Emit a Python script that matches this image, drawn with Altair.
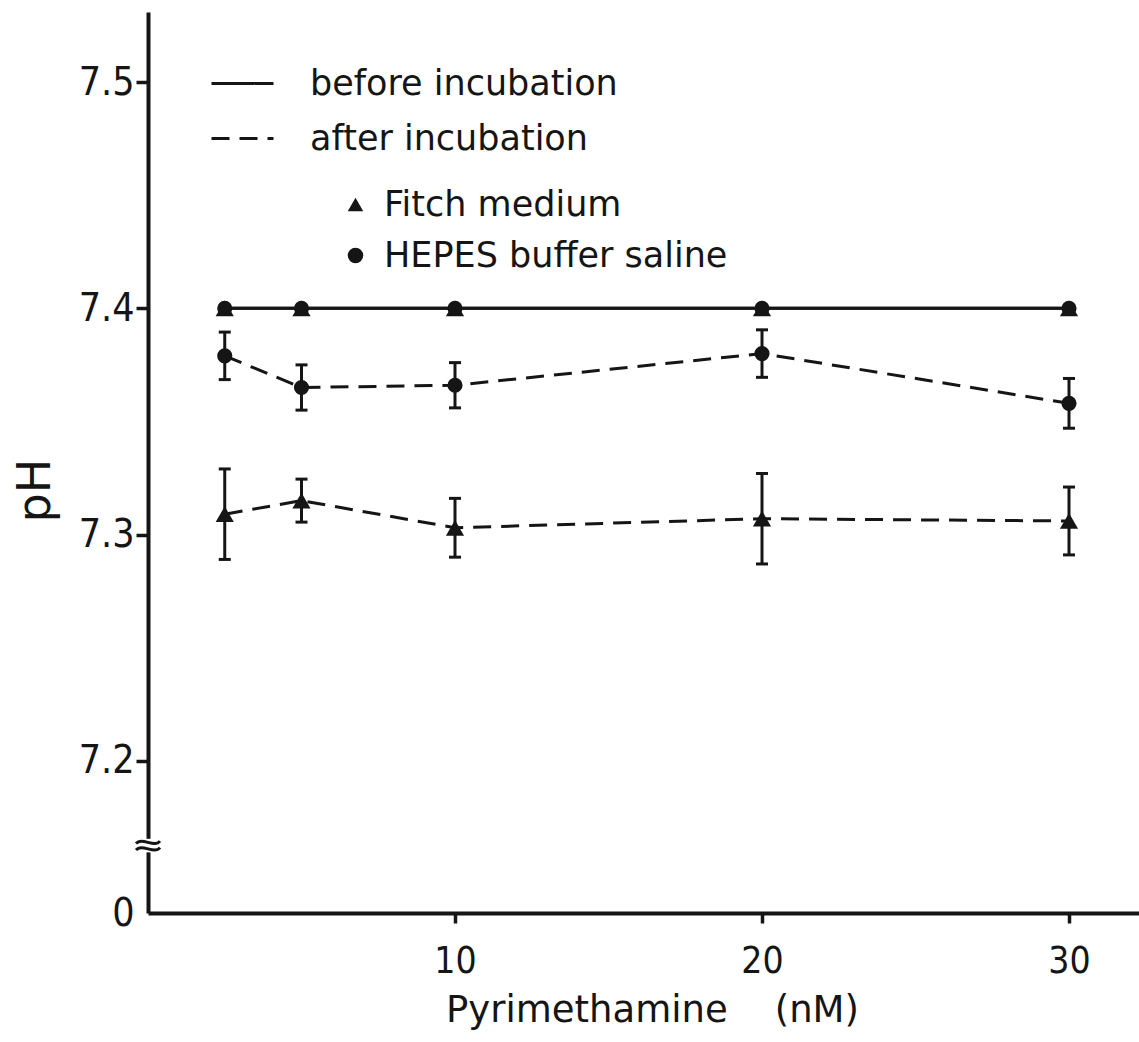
import altair as alt
import pandas as pd

# ---------------- data ----------------
CONC = [2.5, 5, 10, 20, 30]                       # Pyrimethamine (nM)
MEDIA = ["Fitch medium", "HEPES buffer saline"]
PHASES = ["before incubation", "after incubation"]

BEFORE_FITCH = [7.400, 7.400, 7.400, 7.400, 7.400]
BEFORE_HEPES = [7.400, 7.400, 7.400, 7.400, 7.400]
AFTER_FITCH = [7.309, 7.315, 7.303, 7.307, 7.306]
AFTER_FITCH_ERR = [0.020, 0.0095, 0.013, 0.020, 0.015]
AFTER_HEPES = [7.379, 7.365, 7.366, 7.380, 7.358]
AFTER_HEPES_ERR = [0.0105, 0.010, 0.010, 0.0105, 0.011]

Y_TICKS = [7.2, 7.3, 7.4, 7.5]
X_TICKS = [10, 20, 30]
Y_MIN, Y_MAX = 7.1327, 7.531      # bottom of broken axis stands for pH 0
X_MAX = 32.28
BREAK_AT = 7.1625                 # axis break symbol position
BREAK_GAP = [7.1655, 7.1595]

# ---------------- tables ----------------
rows = []
for med, vals_b, vals_a, errs in [
    ("Fitch medium", BEFORE_FITCH, AFTER_FITCH, AFTER_FITCH_ERR),
    ("HEPES buffer saline", BEFORE_HEPES, AFTER_HEPES, AFTER_HEPES_ERR),
]:
    for c, v in zip(CONC, vals_b):
        rows.append({"conc": c, "pH": v, "medium": med, "phase": "before incubation", "lo": v, "hi": v})
    for c, v, e in zip(CONC, vals_a, errs):
        rows.append({"conc": c, "pH": v, "medium": med, "phase": "after incubation", "lo": v - e, "hi": v + e})
df = pd.DataFrame(rows)
df_err = df[df["phase"] == "after incubation"]
df_fitch = df[df["medium"] == MEDIA[0]]
df_hepes = df[df["medium"] == MEDIA[1]]
df_break = pd.DataFrame({"conc": [0], "pH": [BREAK_AT]})
df_gap = pd.DataFrame({"conc": [0], "pH": [BREAK_GAP[0]], "pH2": [BREAK_GAP[1]]})

INK = "#151515"
TXT = "DejaVu Sans"
NUM = "Liberation Sans Narrow, DejaVu Sans Condensed, Roboto"

x_axis = alt.Axis(values=X_TICKS, grid=False, domainColor=INK, domainWidth=4,
                  tickColor=INK, tickWidth=3.5, tickSize=10,
                  labelFont=NUM, labelFontSize=37, labelColor=INK, labelPadding=20,
                  titleFont=TXT, titleFontSize=37, titleFontWeight="normal",
                  titleColor=INK, titlePadding=13, titleX=504, titleAlign="center")
y_axis = alt.Axis(values=[Y_MIN] + Y_TICKS, grid=False, domainColor=INK, domainWidth=4,
                  tickColor=INK, tickWidth=3.5, tickSize=12,
                  tickOpacity={"condition": {"test": "datum.value < 7.15", "value": 0}, "value": 1},
                  labelExpr="datum.value < 7.15 ? '0\u00a0\u00a0' : format(datum.value, '.1f')",
                  labelFont=NUM, labelFontSize=39, labelColor=INK, labelPadding=2,
                  titleFont=TXT, titleFontSize=46, titleFontWeight="normal", titleColor=INK,
                  titleX=-113, titleY=478, titleAngle=270, titleAlign="center",
                  titleBaseline="middle")

X_TITLE = "Pyrimethamine\u00a0\u00a0\u00a0\u00a0(nM)"
xs = alt.Scale(domain=[0, X_MAX], nice=False, zero=False)
ys = alt.Scale(domain=[Y_MIN, Y_MAX], nice=False, zero=False)

def X():
    return alt.X("conc:Q", scale=xs, axis=x_axis, title=X_TITLE)

def Y(field="pH"):
    return alt.Y(f"{field}:Q", scale=ys, axis=y_axis, title="pH")

lines = alt.Chart(df).mark_line(color=INK, strokeWidth=3).encode(
    x=X(), y=Y(),
    strokeDash=alt.StrokeDash(
        "phase:N",
        scale=alt.Scale(domain=PHASES, range=[[1, 0], [18, 10]]),
        legend=alt.Legend(orient="none", legendX=62, legendY=39, title=None,
                          labelFont=TXT, labelFontSize=35, labelColor=INK, labelLimit=600,
                          labelOffset=35, symbolSize=3844, symbolStrokeWidth=3,
                          symbolStrokeColor=INK, symbolType="stroke",
                          rowPadding=4, padding=0)),
    detail="medium:N",
)

rules = alt.Chart(df_err).mark_rule(color=INK, strokeWidth=3).encode(
    x=X(), y=Y("lo"), y2="hi:Q")
cap_lo = alt.Chart(df_err).mark_tick(color=INK, thickness=3, size=12,
                                     orient="horizontal", opacity=1).encode(x=X(), y=Y("lo"))
cap_hi = alt.Chart(df_err).mark_tick(color=INK, thickness=3, size=12,
                                     orient="horizontal", opacity=1).encode(x=X(), y=Y("hi"))

shape_legend = alt.Legend(orient="none", legendX=190, legendY=175, title=None,
                          labelFont=TXT, labelFontSize=35, labelColor=INK, labelLimit=600,
                          labelOffset=11, symbolSize=240, symbolFillColor=INK,
                          symbolStrokeColor=INK, rowPadding=15, padding=0)
shape_scale = alt.Scale(domain=MEDIA, range=["triangle-up", "circle"])

tri_points = alt.Chart(df_fitch).mark_point(filled=True, color=INK, opacity=1, size=330).encode(
    x=X(), y=Y(), shape=alt.Shape("medium:N", scale=shape_scale, legend=shape_legend))
dot_points = alt.Chart(df_hepes).mark_point(filled=True, color=INK, opacity=1, size=230).encode(
    x=X(), y=Y(), shape=alt.Shape("medium:N", scale=shape_scale, legend=shape_legend))

# axis-break symbol: white gap in the axis plus two small waves
BREAK_SHAPE = ("M-1,-0.17 C-0.5,-0.77 0.5,0.23 1,-0.37 "
               "M-1,0.37 C-0.5,-0.23 0.5,0.77 1,0.17")
gap = alt.Chart(df_gap).mark_rule(color="white", strokeWidth=10).encode(
    x=X(), y=Y(), y2="pH2:Q")
waves = alt.Chart(df_break).mark_point(shape=BREAK_SHAPE, filled=False, stroke=INK,
                                       strokeWidth=3, size=576, opacity=1).encode(
    x=X(), y=Y())

chart = alt.layer(lines, rules, cap_lo, cap_hi, tri_points, dot_points, gap, waves).properties(
    width=991, height=901,
    autosize=alt.AutoSizeParams(type="none"),
    padding={"left": 148, "top": 12, "right": 0, "bottom": 129},
    background="white",
).configure_view(stroke=None)

chart.save("out.html", embed_options={"renderer": "svg", "actions": False})
